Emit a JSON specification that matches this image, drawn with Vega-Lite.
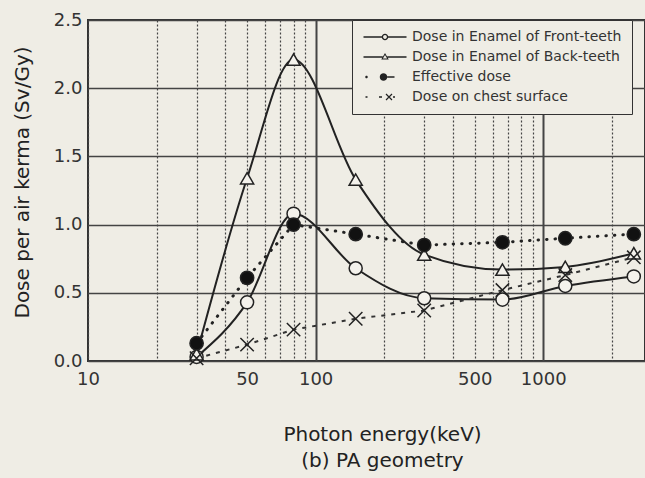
{
  "$schema": "https://vega.github.io/schema/vega-lite/v6.json",
  "width": 557,
  "height": 341,
  "autosize": "none",
  "padding": {"left": 88, "top": 20, "right": 0, "bottom": 117},
  "background": "#efede5",
  "config": {
    "font": "DejaVu Sans",
    "view": {"stroke": "#333", "strokeWidth": 2}
  },
  "data": {
    "values": [
      {"series": "Dose in Enamel of Front-teeth", "energy": 30, "dose": 0.03},
      {"series": "Dose in Enamel of Front-teeth", "energy": 50, "dose": 0.43},
      {"series": "Dose in Enamel of Front-teeth", "energy": 80, "dose": 1.08},
      {"series": "Dose in Enamel of Front-teeth", "energy": 150, "dose": 0.68},
      {"series": "Dose in Enamel of Front-teeth", "energy": 300, "dose": 0.46},
      {"series": "Dose in Enamel of Front-teeth", "energy": 662, "dose": 0.45},
      {"series": "Dose in Enamel of Front-teeth", "energy": 1250, "dose": 0.55},
      {"series": "Dose in Enamel of Front-teeth", "energy": 2500, "dose": 0.62},
      {"series": "Dose in Enamel of Back-teeth", "energy": 30, "dose": 0.05},
      {"series": "Dose in Enamel of Back-teeth", "energy": 50, "dose": 1.34},
      {"series": "Dose in Enamel of Back-teeth", "energy": 80, "dose": 2.21},
      {"series": "Dose in Enamel of Back-teeth", "energy": 150, "dose": 1.33},
      {"series": "Dose in Enamel of Back-teeth", "energy": 300, "dose": 0.78},
      {"series": "Dose in Enamel of Back-teeth", "energy": 662, "dose": 0.67},
      {"series": "Dose in Enamel of Back-teeth", "energy": 1250, "dose": 0.69},
      {"series": "Dose in Enamel of Back-teeth", "energy": 2500, "dose": 0.79},
      {"series": "Effective dose", "energy": 30, "dose": 0.13},
      {"series": "Effective dose", "energy": 50, "dose": 0.61},
      {"series": "Effective dose", "energy": 80, "dose": 1.0},
      {"series": "Effective dose", "energy": 150, "dose": 0.93},
      {"series": "Effective dose", "energy": 300, "dose": 0.85},
      {"series": "Effective dose", "energy": 662, "dose": 0.87},
      {"series": "Effective dose", "energy": 1250, "dose": 0.9},
      {"series": "Effective dose", "energy": 2500, "dose": 0.93},
      {"series": "Dose on chest surface", "energy": 30, "dose": 0.02},
      {"series": "Dose on chest surface", "energy": 50, "dose": 0.12},
      {"series": "Dose on chest surface", "energy": 80, "dose": 0.23},
      {"series": "Dose on chest surface", "energy": 150, "dose": 0.31},
      {"series": "Dose on chest surface", "energy": 300, "dose": 0.37},
      {"series": "Dose on chest surface", "energy": 662, "dose": 0.52},
      {"series": "Dose on chest surface", "energy": 1250, "dose": 0.63},
      {"series": "Dose on chest surface", "energy": 2500, "dose": 0.76}
    ]
  },
  "encoding": {
    "x": {
      "field": "energy",
      "type": "quantitative",
      "scale": {"type": "log", "domain": [10, 2800], "nice": false},
      "axis": {
        "values": [10, 20, 30, 40, 50, 60, 70, 80, 90, 100, 200, 300, 400, 500, 600, 700, 800, 900, 1000, 2000],
        "format": "d",
        "labelExpr": "indexof([10, 50, 100, 500, 1000], datum.value) >= 0 ? datum.label : ''",
        "labelFontSize": 18,
        "labelColor": "#333",
        "labelPadding": 9,
        "labelFlush": false,
        "ticks": false,
        "domain": false,
        "grid": true,
        "gridColor": "#444",
        "gridOpacity": 1,
        "gridDash": {"condition": {"test": "datum.value === 100 || datum.value === 1000", "value": []}, "value": [2, 2]},
        "gridWidth": {"condition": {"test": "datum.value === 100 || datum.value === 1000", "value": 2}, "value": 1.2},
        "title": ["Photon energy(keV)", "(b) PA geometry"],
        "titleFontSize": 20,
        "titleFontWeight": "normal",
        "titleColor": "#222",
        "titleX": 294,
        "titleY": 63,
        "titleBaseline": "top",
        "titleLineHeight": 26
      }
    },
    "y": {
      "field": "dose",
      "type": "quantitative",
      "scale": {"domain": [0, 2.5], "nice": false},
      "axis": {
        "values": [0, 0.5, 1, 1.5, 2, 2.5],
        "format": ".1f",
        "labelFontSize": 18,
        "labelColor": "#333",
        "labelPadding": 6,
        "labelFlush": false,
        "ticks": false,
        "domain": false,
        "grid": true,
        "gridColor": "#444",
        "gridOpacity": 1,
        "gridWidth": 1.6,
        "title": "Dose per air kerma (Sv/Gy)",
        "titleFontSize": 20,
        "titleFontWeight": "normal",
        "titleColor": "#222",
        "titleAngle": -90,
        "titleX": -66,
        "titleY": 162,
        "titleAlign": "center",
        "titleBaseline": "middle"
      }
    }
  },
  "layer": [
    {
      "transform": [{"filter": "datum.series === 'Dose in Enamel of Front-teeth' || datum.series === 'Dose in Enamel of Back-teeth'"}],
      "mark": {"type": "line", "interpolate": "monotone", "color": "#222", "strokeWidth": 2},
      "encoding": {"detail": {"field": "series"}}
    },
    {
      "transform": [{"filter": "datum.series === 'Effective dose'"}],
      "mark": {"type": "line", "color": "#222", "strokeWidth": 3, "strokeDash": [0.5, 8], "strokeCap": "round"},
      "encoding": {}
    },
    {
      "transform": [{"filter": "datum.series === 'Dose on chest surface'"}],
      "mark": {"type": "line", "color": "#333", "strokeWidth": 2, "strokeDash": [4, 6]},
      "encoding": {}
    },
    {
      "mark": {"type": "point", "stroke": "#222", "strokeWidth": 1.5, "opacity": 1},
      "encoding": {
        "shape": {
          "field": "series",
          "type": "nominal",
          "scale": {
            "domain": ["Dose in Enamel of Front-teeth", "Dose in Enamel of Back-teeth", "Effective dose", "Dose on chest surface"],
            "range": ["circle", "triangle-up", "circle", "M-1,-1L1,1M-1,1L1,-1"]
          },
          "legend": null
        },
        "fill": {
          "field": "series",
          "type": "nominal",
          "scale": {
            "domain": ["Dose in Enamel of Front-teeth", "Dose in Enamel of Back-teeth", "Effective dose", "Dose on chest surface"],
            "range": ["#f4f2ec", "#f4f2ec", "#111", "#f4f2ec"]
          },
          "legend": null
        },
        "size": {
          "field": "series",
          "type": "nominal",
          "scale": {
            "domain": ["Dose in Enamel of Front-teeth", "Dose in Enamel of Back-teeth", "Effective dose", "Dose on chest surface"],
            "range": [170, 180, 130, 50]
          },
          "legend": null
        }
      }
    },
    {
      "mark": {"type": "point", "opacity": 0, "size": 100, "filled": true, "color": "#222"},
      "encoding": {
        "shape": {
          "field": "series",
          "type": "nominal",
          "scale": {
            "domain": ["Dose in Enamel of Front-teeth", "Dose in Enamel of Back-teeth", "Effective dose", "Dose on chest surface"],
            "range": [
              "M-4.3,-0.15H-0.62V0.15H-4.3ZM0.62,-0.15H4.3V0.15H0.62ZM0.65,0A0.65,0.65,0,1,1,-0.65,0A0.65,0.65,0,1,1,0.65,0ZM0.38,0A0.38,0.38,0,1,0,-0.38,0A0.38,0.38,0,1,0,0.38,0Z",
              "M-4.3,-0.15H-0.45V0.15H-4.3ZM0.45,-0.15H4.3V0.15H0.45ZM0,-0.8L0.75,0.5H-0.75ZM0,-0.4L-0.42,0.3H0.42Z",
              "M-3.45,0A0.25,0.25,0,1,1,-3.95,0A0.25,0.25,0,1,1,-3.45,0ZM0.45,0A0.75,0.75,0,1,1,-1.05,0A0.75,0.75,0,1,1,0.45,0ZM0.45,-0.15H1.9V0.15H0.45Z",
              "M-3.9,-0.15H-3.5V0.15H-3.9ZM-1.2,-0.15H-0.6V0.15H-1.2ZM0.285,-0.685L1.485,0.515L1.315,0.685L0.115,-0.515ZM0.285,0.685L0.115,0.515L1.315,-0.685L1.485,-0.515ZM1.6,-0.15H2.0V0.15H1.6Z"
            ]
          },
          "legend": {
            "title": null,
            "orient": "none",
            "legendX": 264,
            "legendY": 0,
            "fillColor": "#efede5",
            "strokeColor": "#333",
            "padding": 10,
            "symbolOffset": 16,
            "symbolSize": 100,
            "symbolFillColor": "#222",
            "symbolStrokeWidth": 0,
            "symbolOpacity": 1,
            "labelOffset": 20,
            "labelFont": "DejaVu Sans",
            "labelFontSize": 14,
            "labelColor": "#333",
            "labelLimit": 400,
            "labelExpr": "datum.label + '\u00a0\u00a0\u00a0\u00a0\u00a0'",
            "rowPadding": 6,
            "encode": {
              "symbols": {
                "update": {
                  "fill": {"value": "#222"},
                  "opacity": {"value": 1}
                }
              }
            }
          }
        }
      }
    }
  ],
  "resolve": {"scale": {"shape": "independent"}}
}
